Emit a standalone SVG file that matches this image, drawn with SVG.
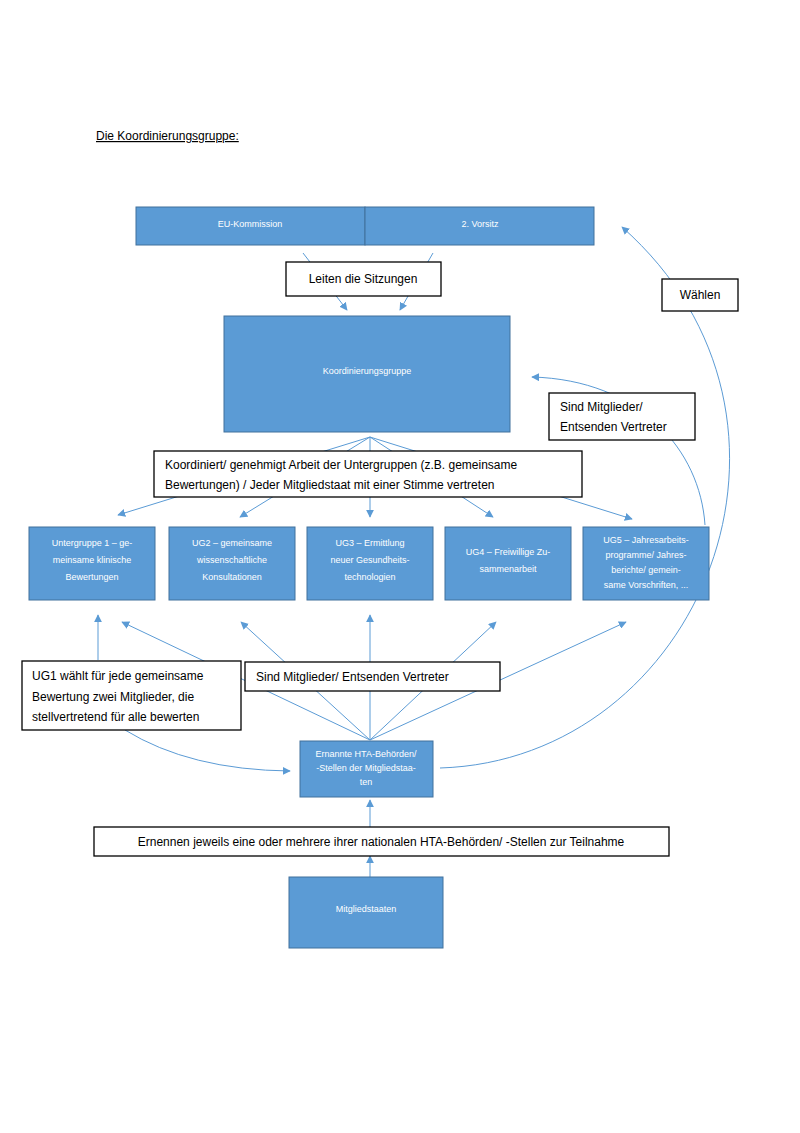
<svg xmlns="http://www.w3.org/2000/svg" width="800" height="1133" viewBox="0 0 800 1133">
<style>
.n{fill:#5b9bd5;stroke:#41719c;stroke-width:1}
.l{fill:#fff;stroke:#000;stroke-width:1.3}
.t{font-family:"Liberation Sans",Arial,sans-serif;fill:#fff;text-anchor:middle;font-size:9px}
.b{font-family:"Liberation Sans",Arial,sans-serif;fill:#000;font-size:12px}
.c{fill:none;stroke:#5b9bd5;stroke-width:1;marker-end:url(#a)}
</style>
<defs><marker id="a" viewBox="0 0 10 10" refX="9" refY="5" markerWidth="8" markerHeight="8" orient="auto" markerUnits="userSpaceOnUse"><path d="M0,0L10,5L0,10z" fill="#5b9bd5"/></marker></defs>
<rect width="800" height="1133" fill="#fff"/>
<text class="b" x="96" y="140" text-decoration="underline">Die Koordinierungsgruppe:</text>
<g id="connectors">
<path class="c" d="M303,253L347,310"/><path class="c" d="M433,253L400,310"/>
<path class="c" d="M370,437L118,515"/><path class="c" d="M370,437L240,517"/><path class="c" d="M370,437L370,517"/><path class="c" d="M370,437L493,517"/><path class="c" d="M370,437L632,519"/>
<path class="c" d="M98,660L98,615"/>
<path class="c" d="M370,740L122,622"/><path class="c" d="M370,740L241,622"/><path class="c" d="M370,740L370,615"/><path class="c" d="M370,740L496,622"/><path class="c" d="M370,740L626,622"/>
<path class="c" d="M125,730Q190,770 290,771"/>
<path class="c" d="M440,768C700,760 840,420 622,227"/>
<path class="c" d="M705,525C700,450 640,380 532,377"/>
<path class="c" d="M370,856L370,800"/>
<path class="c" d="M370,877L370,856"/>
</g>
<g id="eu"><rect class="n" x="136" y="207" width="229" height="38"/><text class="t" x="250" y="227" font-size="11">EU-Kommission</text></g>
<g id="vorsitz"><rect class="n" x="365" y="207" width="229" height="38"/><text class="t" x="480" y="227" font-size="11">2. Vorsitz</text></g>
<g id="l1"><rect class="l" x="286" y="262" width="155" height="34"/><text class="b" x="363" y="283" text-anchor="middle">Leiten die Sitzungen</text></g>
<g id="kg"><rect class="n" x="224" y="316" width="286" height="116"/><text class="t" x="367" y="374" font-size="16">Koordinierungsgruppe</text></g>
<g id="l2"><rect class="l" x="154" y="451" width="428" height="46"/><text class="b" x="165" y="469">Koordiniert/ genehmigt Arbeit der Untergruppen (z.B. gemeinsame</text><text class="b" x="165" y="489">Bewertungen) / Jeder Mitgliedstaat mit einer Stimme vertreten</text></g>
<g id="ug1"><rect class="n" x="29" y="527" width="126" height="73"/><text class="t" x="92" y="546">Untergruppe 1 – ge-</text><text class="t" x="92" y="563">meinsame klinische</text><text class="t" x="92" y="580">Bewertungen</text></g>
<g id="ug2"><rect class="n" x="169" y="527" width="126" height="73"/><text class="t" x="232" y="546">UG2 – gemeinsame</text><text class="t" x="232" y="563">wissenschaftliche</text><text class="t" x="232" y="580">Konsultationen</text></g>
<g id="ug3"><rect class="n" x="307" y="527" width="126" height="73"/><text class="t" x="370" y="546">UG3 – Ermittlung</text><text class="t" x="370" y="563">neuer Gesundheits-</text><text class="t" x="370" y="580">technologien</text></g>
<g id="ug4"><rect class="n" x="445" y="527" width="126" height="73"/><text class="t" x="508" y="555">UG4 – Freiwillige Zu-</text><text class="t" x="508" y="572">sammenarbeit</text></g>
<g id="ug5"><rect class="n" x="583" y="527" width="126" height="73"/><text class="t" x="646" y="543">UG5 – Jahresarbeits-</text><text class="t" x="646" y="558">programme/ Jahres-</text><text class="t" x="646" y="573">berichte/ gemein-</text><text class="t" x="646" y="588">same Vorschriften, ...</text></g>
<g id="l3"><rect class="l" x="662" y="279" width="76" height="32"/><text class="b" x="700" y="299" text-anchor="middle">Wählen</text></g>
<g id="l4"><rect class="l" x="549" y="393" width="146" height="47"/><text class="b" x="560" y="411">Sind Mitglieder/</text><text class="b" x="560" y="431">Entsenden Vertreter</text></g>
<g id="l5"><rect class="l" x="22" y="661" width="219" height="69"/><text class="b" x="32" y="680">UG1 wählt für jede gemeinsame</text><text class="b" x="32" y="701">Bewertung zwei Mitglieder, die</text><text class="b" x="32" y="721">stellvertretend für alle bewerten</text></g>
<g id="l6"><rect class="l" x="245" y="662" width="255" height="29"/><text class="b" x="256" y="681">Sind Mitglieder/ Entsenden Vertreter</text></g>
<g id="hta"><rect class="n" x="300" y="741" width="133" height="56"/><text class="t" x="366" y="757" font-size="8">Ernannte HTA-Behörden/</text><text class="t" x="366" y="771" font-size="8">-Stellen der Mitgliedstaa-</text><text class="t" x="366" y="785" font-size="8">ten</text></g>
<g id="l7"><rect class="l" x="94" y="827" width="575" height="29"/><text class="b" x="381" y="846" text-anchor="middle">Ernennen jeweils eine oder mehrere ihrer nationalen HTA-Behörden/ -Stellen zur Teilnahme</text></g>
<g id="ms"><rect class="n" x="289" y="877" width="154" height="71"/><text class="t" x="366" y="912" font-size="11">Mitgliedstaaten</text></g>
</svg>
